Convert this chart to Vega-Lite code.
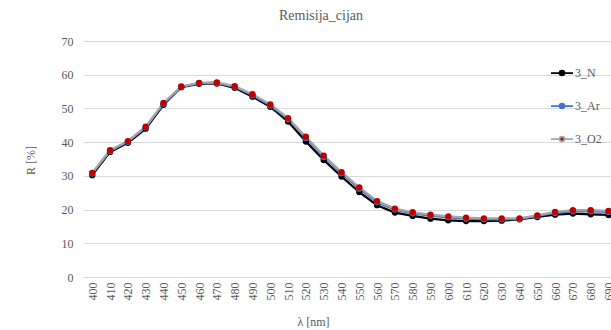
{
  "$schema": "https://vega.github.io/schema/vega-lite/v6.json",
  "autosize": {"type": "none"},
  "width": 528,
  "height": 236,
  "padding": {"left": 83, "top": 41, "right": 0, "bottom": 53},
  "background": "white",
  "title": {"text": "Remisija_cijan", "font": "Liberation Serif", "fontSize": 14, "fontWeight": "normal", "color": "#595959", "anchor": "middle", "dx": -26, "offset": 12},
  "data": {"values": [
    {"lambda":400,"series":"3_N","R":30.2},{"lambda":400,"series":"3_Ar","R":30.7},{"lambda":400,"series":"3_O2","R":30.9},
    {"lambda":410,"series":"3_N","R":37.1},{"lambda":410,"series":"3_Ar","R":37.4},{"lambda":410,"series":"3_O2","R":37.6},
    {"lambda":420,"series":"3_N","R":39.8},{"lambda":420,"series":"3_Ar","R":40.1},{"lambda":420,"series":"3_O2","R":40.3},
    {"lambda":430,"series":"3_N","R":44.0},{"lambda":430,"series":"3_Ar","R":44.4},{"lambda":430,"series":"3_O2","R":44.6},
    {"lambda":440,"series":"3_N","R":51.1},{"lambda":440,"series":"3_Ar","R":51.4},{"lambda":440,"series":"3_O2","R":51.6},
    {"lambda":450,"series":"3_N","R":56.3},{"lambda":450,"series":"3_Ar","R":56.4},{"lambda":450,"series":"3_O2","R":56.5},
    {"lambda":460,"series":"3_N","R":57.3},{"lambda":460,"series":"3_Ar","R":57.5},{"lambda":460,"series":"3_O2","R":57.6},
    {"lambda":470,"series":"3_N","R":57.4},{"lambda":470,"series":"3_Ar","R":57.6},{"lambda":470,"series":"3_O2","R":57.7},
    {"lambda":480,"series":"3_N","R":56.1},{"lambda":480,"series":"3_Ar","R":56.4},{"lambda":480,"series":"3_O2","R":56.6},
    {"lambda":490,"series":"3_N","R":53.5},{"lambda":490,"series":"3_Ar","R":53.9},{"lambda":490,"series":"3_O2","R":54.2},
    {"lambda":500,"series":"3_N","R":50.5},{"lambda":500,"series":"3_Ar","R":50.9},{"lambda":500,"series":"3_O2","R":51.2},
    {"lambda":510,"series":"3_N","R":46.1},{"lambda":510,"series":"3_Ar","R":46.8},{"lambda":510,"series":"3_O2","R":47.1},
    {"lambda":520,"series":"3_N","R":40.2},{"lambda":520,"series":"3_Ar","R":41.2},{"lambda":520,"series":"3_O2","R":41.6},
    {"lambda":530,"series":"3_N","R":34.7},{"lambda":530,"series":"3_Ar","R":35.6},{"lambda":530,"series":"3_O2","R":36.0},
    {"lambda":540,"series":"3_N","R":29.8},{"lambda":540,"series":"3_Ar","R":30.8},{"lambda":540,"series":"3_O2","R":31.1},
    {"lambda":550,"series":"3_N","R":25.2},{"lambda":550,"series":"3_Ar","R":26.2},{"lambda":550,"series":"3_O2","R":26.6},
    {"lambda":560,"series":"3_N","R":21.3},{"lambda":560,"series":"3_Ar","R":22.2},{"lambda":560,"series":"3_O2","R":22.5},
    {"lambda":570,"series":"3_N","R":19.1},{"lambda":570,"series":"3_Ar","R":20.0},{"lambda":570,"series":"3_O2","R":20.3},
    {"lambda":580,"series":"3_N","R":18.1},{"lambda":580,"series":"3_Ar","R":18.9},{"lambda":580,"series":"3_O2","R":19.2},
    {"lambda":590,"series":"3_N","R":17.3},{"lambda":590,"series":"3_Ar","R":18.2},{"lambda":590,"series":"3_O2","R":18.5},
    {"lambda":600,"series":"3_N","R":16.8},{"lambda":600,"series":"3_Ar","R":17.7},{"lambda":600,"series":"3_O2","R":18.0},
    {"lambda":610,"series":"3_N","R":16.6},{"lambda":610,"series":"3_Ar","R":17.3},{"lambda":610,"series":"3_O2","R":17.6},
    {"lambda":620,"series":"3_N","R":16.6},{"lambda":620,"series":"3_Ar","R":17.1},{"lambda":620,"series":"3_O2","R":17.4},
    {"lambda":630,"series":"3_N","R":16.7},{"lambda":630,"series":"3_Ar","R":17.1},{"lambda":630,"series":"3_O2","R":17.4},
    {"lambda":640,"series":"3_N","R":17.1},{"lambda":640,"series":"3_Ar","R":17.2},{"lambda":640,"series":"3_O2","R":17.4},
    {"lambda":650,"series":"3_N","R":17.8},{"lambda":650,"series":"3_Ar","R":18.1},{"lambda":650,"series":"3_O2","R":18.3},
    {"lambda":660,"series":"3_N","R":18.5},{"lambda":660,"series":"3_Ar","R":19.0},{"lambda":660,"series":"3_O2","R":19.3},
    {"lambda":670,"series":"3_N","R":18.8},{"lambda":670,"series":"3_Ar","R":19.5},{"lambda":670,"series":"3_O2","R":19.8},
    {"lambda":680,"series":"3_N","R":18.6},{"lambda":680,"series":"3_Ar","R":19.5},{"lambda":680,"series":"3_O2","R":19.8},
    {"lambda":690,"series":"3_N","R":18.4},{"lambda":690,"series":"3_Ar","R":19.3},{"lambda":690,"series":"3_O2","R":19.6}
  ]},
  "encoding": {
    "x": {"field": "lambda", "type": "quantitative",
      "scale": {"domain": [394.8, 691.4], "nice": false, "zero": false},
      "axis": {"title": "λ [nm]", "values": [400,410,420,430,440,450,460,470,480,490,500,510,520,530,540,550,560,570,580,590,600,610,620,630,640,650,660,670,680,690],
        "labelAngle": -90, "labelPadding": 5, "ticks": false, "grid": false, "domainColor": "#d9d9d9", "domainWidth": 1,
        "labelFont": "Liberation Serif", "labelFontSize": 12, "labelColor": "#595959", "labelFlush": false, "labelOverlap": false,
        "titleFont": "Liberation Serif", "titleFontSize": 12, "titleFontWeight": "normal", "titleColor": "#595959",
        "titleX": 230, "titleY": 44, "titleAlign": "center", "titleBaseline": "middle", "titleAnchor": null}},
    "y": {"field": "R", "type": "quantitative",
      "scale": {"domain": [0, 70], "nice": false},
      "axis": {"title": "R [%]", "values": [0,10,20,30,40,50,60,70], "ticks": false, "domain": false, "labelPadding": 10,
        "gridColor": "#d9d9d9", "gridWidth": 1,
        "labelFont": "Liberation Serif", "labelFontSize": 12, "labelColor": "#595959",
        "titleFont": "Liberation Serif", "titleFontSize": 12, "titleFontWeight": "normal", "titleColor": "#595959",
        "titleX": -53, "titleY": 119, "titleAngle": -90, "titleAlign": "center", "titleBaseline": "middle", "titleAnchor": null}}
  },
  "layer": [
    {"mark": {"type": "line", "strokeWidth": 2.25, "clip": false},
     "encoding": {"stroke": {"field": "series", "type": "nominal",
       "scale": {"domain": ["3_N", "3_Ar", "3_O2"], "range": ["#000000", "#4472C4", "#A5A5A5"]},
       "legend": {"title": null}},
       "order": {"field": "lambda"}}},
    {"mark": {"type": "point", "filled": true, "size": 40, "opacity": 1, "strokeWidth": 0, "clip": false},
     "encoding": {"fill": {"field": "series", "type": "nominal",
       "scale": {"domain": ["3_N", "3_Ar", "3_O2"], "range": ["#000000", "#4472C4", "#C00000"]},
       "legend": {"title": null}}}}
  ],
  "config": {
    "view": {"stroke": null},
    "legend": {
      "orient": "none", "legendX": 467, "legendY": 20, "padding": 0,
      "symbolType": "M-1,0L-0.22,0M0.22,0L1,0M-0.22,0A0.22,0.22,0,1,1,0.22,0A0.22,0.22,0,1,1,-0.22,0Z",
      "symbolSize": 484, "symbolStrokeWidth": 1.75, "rowPadding": 15, "labelOffset": 1,
      "labelFont": "Liberation Serif", "labelFontSize": 12, "labelColor": "#595959", "symbolOpacity": 1
    }
  }
}
